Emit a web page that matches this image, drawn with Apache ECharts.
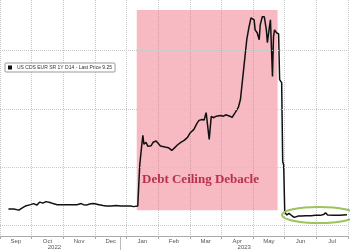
<!DOCTYPE html>
<html><head><meta charset="utf-8">
<script src="https://cdn.jsdelivr.net/npm/echarts@6/dist/echarts.min.js"></script>
<style>html,body{margin:0;padding:0;background:#fff}#c{width:350px;height:250px}</style>
</head><body><div id="c"></div>
<script>
const seriesName = 'US CDS EUR SR 1Y D14 - Last Price 9.25';
const dates = [
'2022-09-09','2022-09-14','2022-09-19','2022-09-21','2022-09-25','2022-09-30',
'2022-10-03','2022-10-06','2022-10-09','2022-10-12','2022-10-15','2022-10-19','2022-10-22','2022-10-26','2022-10-31',
'2022-11-05','2022-11-09','2022-11-14','2022-11-18','2022-11-20','2022-11-23','2022-11-26','2022-11-29',
'2022-12-02','2022-12-05','2022-12-09','2022-12-12','2022-12-17','2022-12-22','2022-12-26','2022-12-31',
'2023-01-05','2023-01-08','2023-01-12','2023-01-13','2023-01-14','2023-01-16','2023-01-17','2023-01-18','2023-01-20','2023-01-22','2023-01-25','2023-01-27','2023-01-30','2023-01-31',
'2023-02-03','2023-02-07','2023-02-10','2023-02-13','2023-02-15','2023-02-18','2023-02-21','2023-02-24','2023-02-27',
'2023-03-01','2023-03-05','2023-03-08','2023-03-10','2023-03-13','2023-03-15','2023-03-17','2023-03-20','2023-03-22','2023-03-24','2023-03-27','2023-03-31',
'2023-04-03','2023-04-05','2023-04-09','2023-04-11','2023-04-14','2023-04-17','2023-04-19','2023-04-21','2023-04-23','2023-04-25','2023-04-27','2023-04-29','2023-04-30',
'2023-05-02','2023-05-03','2023-05-05','2023-05-07','2023-05-08','2023-05-10','2023-05-12','2023-05-14','2023-05-15','2023-05-17','2023-05-18','2023-05-20','2023-05-21','2023-05-22','2023-05-24','2023-05-26','2023-05-27','2023-05-29','2023-05-30','2023-05-31',
'2023-06-01','2023-06-03','2023-06-05','2023-06-07','2023-06-10','2023-06-14','2023-06-17','2023-06-21','2023-06-26','2023-06-30',
'2023-07-05','2023-07-08','2023-07-10','2023-07-12','2023-07-18','2023-07-24','2023-07-31'
];
const values = [
14.1,14.1,13.2,14.5,16.7,17.9,
18.8,17.5,20.1,19.2,20.5,19.7,18.8,17.9,17.9,
17.9,17.9,17.9,18.8,17.9,17.5,18.4,18.8,
18.4,17.9,17.1,16.7,16.7,17.1,16.7,16.7,
16.7,16.2,16.7,35.5,52.6,69.7,77.4,69.7,71.4,67.9,68.4,71.4,72.5,71.6,
68.2,67.3,66.8,64.5,66.2,69.1,71.4,73.1,75.6,
79.1,82.5,87.6,90.2,91.0,90.6,96.8,73.9,93.6,92.5,93.8,94.4,
93.8,95.0,93.8,92.7,96.8,101.3,108.1,125.2,142.3,159.4,169.7,178.2,179.1,
176.5,167.9,165.4,159.4,172.2,179.1,179.1,167.9,156.8,170.5,176.5,127.8,162.0,167.9,165.4,164.5,125.2,122.6,55.1,51.7,
11.5,9.0,10.4,9.0,7.0,8.1,8.1,8.4,8.4,8.7,
8.7,9.4,10.9,9.0,8.7,8.7,9.25
];
const monthLabels = ['Sep','Oct','Nov','Dec','Jan','Feb','Mar','Apr','May','Jun','Jul'];
const yearLabels = ['', '2022', '', '', '', '', '', '2023', '', '', ''];
const yGridValues = [0, 50, 100, 150];
const shadeStart = '2023-01-11', shadeEnd = '2023-05-25';
const shadeLow = 13, shadeHigh = 185;
const annotation = 'Debt Ceiling Debacle';

function toMonthUnits(s) {
  const [y, m, d] = s.split('-').map(Number);
  const idx = (y - 2022) * 12 + (m - 9);
  const days = new Date(y, m, 0).getDate();
  return idx + (d - 1) / days;
}

const chart = echarts.init(document.getElementById('c'), null, {renderer: 'canvas'});
chart.setOption({
  animation: false,
  backgroundColor: '#fff',
  grid: {left: -9, right: 2, top: 0, bottom: 13},
  legend: {
    data: [{name: seriesName, icon: 'rect'}],
    left: 5, top: 63, itemWidth: 4, itemHeight: 4,
    padding: [2, 3, 2, 3], borderColor: '#999', borderWidth: 1, borderRadius: 1,
    backgroundColor: '#fff', selectedMode: false,
    textStyle: {fontSize: 5, color: '#333', fontFamily: 'Liberation Sans'}
  },
  xAxis: [
    {type: 'value', min: 0, max: 11, interval: 1, position: 'bottom',
     axisLine: {onZero: false, lineStyle: {color: '#aaa'}},
     axisTick: {show: true, length: 3, lineStyle: {color: '#aaa'}},
     axisLabel: {show: false},
     splitLine: {show: true, lineStyle: {type: 'dotted', color: '#c8c8c8'}}},
    {type: 'category', data: monthLabels, boundaryGap: true, position: 'bottom',
     axisLine: {show: false, onZero: false}, axisTick: {show: false}, splitLine: {show: false},
     axisLabel: {interval: 0, fontSize: 6, color: '#555', margin: 2, fontFamily: 'Liberation Sans'}},
    {type: 'category', data: yearLabels, boundaryGap: true, position: 'bottom',
     axisLine: {show: false, onZero: false}, axisTick: {show: false}, splitLine: {show: false},
     axisLabel: {interval: 0, fontSize: 6, color: '#555', margin: 8, padding: [0, 0, 0, 14], fontFamily: 'Liberation Sans'}}
  ],
  yAxis: {type: 'value', min: -9, max: 193.5, show: false},
  series: [
    {type: 'line', name: seriesName, xAxisIndex: 0,
     data: dates.map((d, i) => [toMonthUnits(d), values[i]]),
     symbol: 'none', showSymbol: false,
     lineStyle: {color: '#111', width: 1.5}, itemStyle: {color: '#111'}, z: 3,
     markLine: {silent: true, symbol: 'none', label: {show: false},
       lineStyle: {type: 'dotted', color: '#c8c8c8', width: 1},
       data: yGridValues.map(v => ({yAxis: v}))}},
    {type: 'line', xAxisIndex: 0, data: [], z: 5,
     markArea: {silent: true, itemStyle: {color: 'rgba(238,100,120,0.45)'},
       data: [[{xAxis: toMonthUnits(shadeStart), yAxis: shadeLow}, {xAxis: toMonthUnits(shadeEnd), yAxis: shadeHigh}]]}}
  ],
  graphic: [
    {type: 'text', x: 200.5, y: 180, z: 100,
     style: {text: annotation, align: 'center', verticalAlign: 'middle', fontSize: 13, fontWeight: 'bold', fontFamily: 'Liberation Serif', fill: '#b8304c'}},
    {type: 'ellipse', z: 100, shape: {cx: 319, cy: 215, rx: 37, ry: 8},
     style: {fill: 'none', stroke: '#9cc45a', lineWidth: 2}},
    {type: 'line', z: 100, shape: {x1: 120.5, y1: 237, x2: 120.5, y2: 250},
     style: {stroke: '#bbb', lineWidth: 1}}
  ]
});
</script>
</body></html>
